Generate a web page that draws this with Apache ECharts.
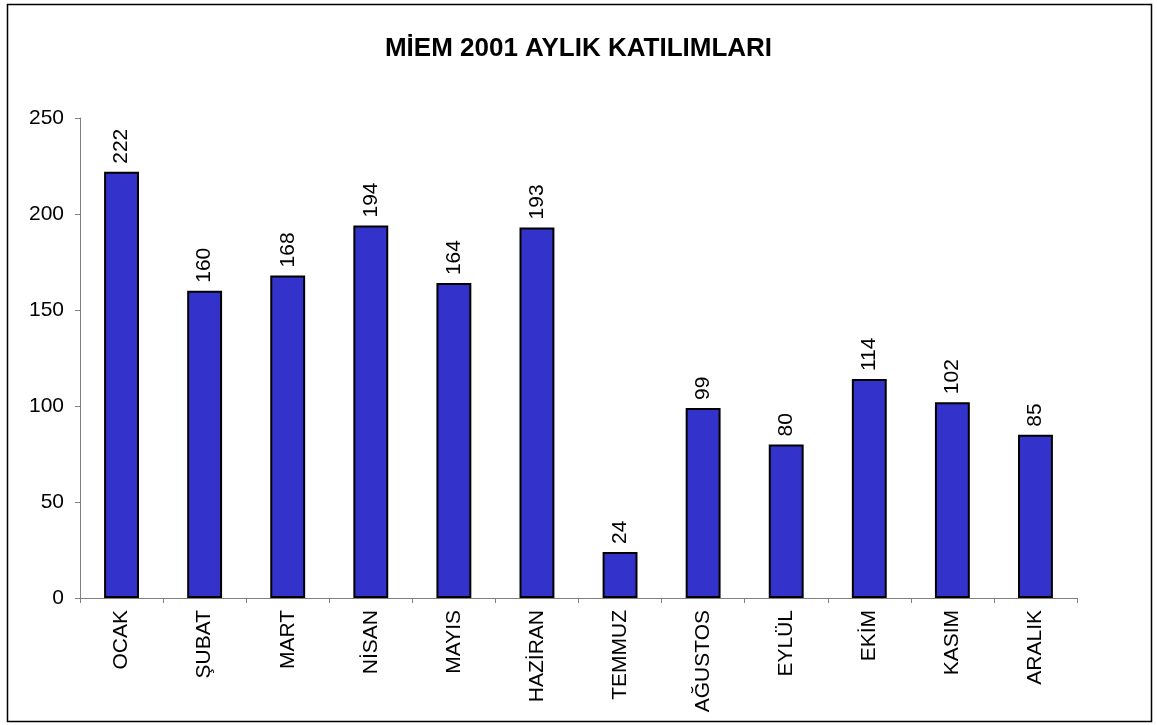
<!DOCTYPE html>
<html>
<head>
<meta charset="utf-8">
<style>
  html, body { margin: 0; padding: 0; background: #fff; }
  #chart { width: 1157px; height: 725px; }
</style>
<script src="https://cdn.jsdelivr.net/npm/echarts@6/dist/echarts.min.js"></script>
</head>
<body>
<div id="chart"></div>
<script>
const TITLE = 'MİEM 2001 AYLIK KATILIMLARI'
const months = ['OCAK', 'ŞUBAT', 'MART', 'NİSAN', 'MAYIS', 'HAZİRAN', 'TEMMUZ', 'AĞUSTOS', 'EYLÜL', 'EKİM', 'KASIM', 'ARALIK']
const attendance = [222, 160, 168, 194, 164, 193, 24, 99, 80, 114, 102, 85]

const FONT = '"Liberation Sans", Arial, sans-serif'
const AXIS_COLOR = '#808080'

const chart = echarts.init(document.getElementById('chart'))

chart.setOption({
  animation: false,
  backgroundColor: '#fff',
  title: {
    text: TITLE,
    left: 'center',
    top: 31,
    textStyle: { fontFamily: FONT, fontSize: 26, fontWeight: 'bold', color: '#000' }
  },
  graphic: [{
    type: 'rect',
    shape: { x: 7.5, y: 4.5, width: 1144, height: 717 },
    style: { fill: 'none', stroke: '#000', lineWidth: 1.5 },
    silent: true
  }],
  grid: { left: 80, right: 80, top: 118, bottom: 127 },
  xAxis: {
    type: 'category',
    data: months,
    boundaryGap: true,
    axisLine: { lineStyle: { color: AXIS_COLOR, width: 1 } },
    axisTick: { show: true, alignWithLabel: false, length: 5, inside: false, lineStyle: { color: AXIS_COLOR } },
    axisLabel: {
      rotate: 90,
      margin: 12,
      interval: 0,
      fontFamily: FONT,
      fontSize: 21,
      color: '#000'
    },
    splitLine: { show: false }
  },
  yAxis: {
    type: 'value',
    min: 0,
    max: 250,
    interval: 50,
    axisLine: { show: true, lineStyle: { color: AXIS_COLOR, width: 1 } },
    axisTick: { show: true, length: 5, lineStyle: { color: AXIS_COLOR } },
    axisLabel: { margin: 16, fontFamily: FONT, fontSize: 21, color: '#000' },
    splitLine: { show: false }
  },
  series: [{
    type: 'bar',
    data: attendance,
    barWidth: '42%',
    itemStyle: { color: '#3333CC', borderColor: '#000', borderWidth: 2 },
    label: {
      show: true,
      position: 'top',
      rotate: 90,
      align: 'left',
      verticalAlign: 'middle',
      distance: 8,
      fontFamily: FONT,
      fontSize: 21,
      color: '#000'
    }
  }]
})
</script>
</body>
</html>
